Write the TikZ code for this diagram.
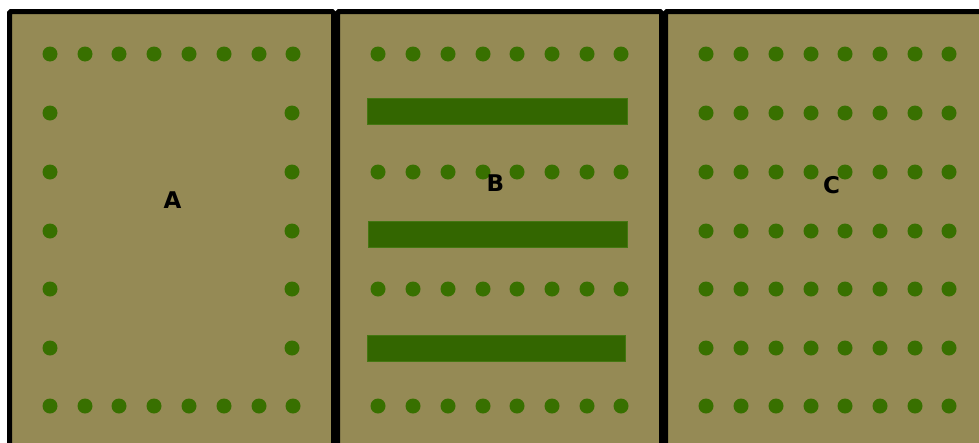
\documentclass[tikz,border=0pt]{standalone}
\usepackage{fontspec}
\setmainfont{DejaVu Sans}
\definecolor{khaki}{HTML}{958A55}
\definecolor{dotgreen}{HTML}{387000}
\definecolor{bargreen}{HTML}{336600}
\definecolor{barline}{HTML}{447711}
\tikzset{
  panel/.style={draw=black, line width=5pt, fill=khaki, rounded corners=1.5pt},
  pin/.style={fill=dotgreen, draw=none},
  bar/.style={fill=bargreen, draw=barline, line width=0.8pt},
  lbl/.style={font=\fontsize{23}{25}\selectfont\bfseries, text=black, inner sep=0pt, anchor=base}
}
\begin{document}
\begin{tikzpicture}[x=1pt,y=-1pt]
\useasboundingbox (0,0) rectangle (979,442);
\clip (0,0) rectangle (979,442);
% panels
\draw[panel] (9.5,11.5) rectangle (333.5,480);
\draw[panel] (337.5,11.5) rectangle (661.5,480);
\draw[panel] (665.5,11.5) rectangle (1000,480);
% panel A
\foreach \x in {50,85,119,154,189,224,259,293} {
  \fill[pin] (\x,54) circle (7.5);
  \fill[pin] (\x,406) circle (7.5);
}
\foreach \y in {113,172,231,289,348} {
  \fill[pin] (50,\y) circle (7.5);
  \fill[pin] (292,\y) circle (7.5);
}
\node[lbl] (la) at (172.5,208.5) {A};
% panel B
\foreach \y in {54,172,289,406} {
  \foreach \x in {378,413,448,483,517,552,587,621} {
    \fill[pin] (\x,\y) circle (7.5);
  }
}
\draw[bar] (367,98) rectangle (627.5,124.5);
\draw[bar] (368.5,221) rectangle (627.5,247.5);
\draw[bar] (367,335) rectangle (625.5,361.5);
\node[lbl] (lb) at (495.5,191) {B};
% panel C
\foreach \y in {54,113,172,231,289,348,406} {
  \foreach \x in {706,741,776,811,845,880,915,949} {
    \fill[pin] (\x,\y) circle (7.5);
  }
}
\node[lbl] (lc) at (831.5,193) {C};
\end{tikzpicture}
\end{document}
